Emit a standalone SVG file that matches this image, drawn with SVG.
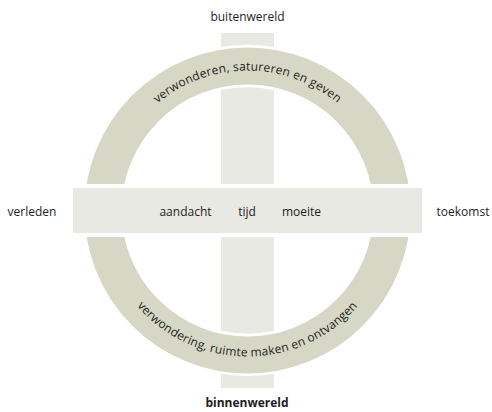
<svg xmlns="http://www.w3.org/2000/svg" width="492" height="412" viewBox="0 0 492 412">
  <style>
    .lbl { font-family: "Open Sans", "DejaVu Sans", sans-serif; font-size: 12px; fill: #1e1e1e; }
    .arc { letter-spacing: 0.2px; }
    .bold { font-weight: bold; }
    .bar { fill: #e8e9e3; }
    .gap { fill: #ffffff; }
  </style>
  <defs>
    <path id="arcTop" d="M 107.5 210.5 A 140 140 0 0 1 387.5 210.5"/>
    <path id="arcBottom" d="M 101.5 210.5 A 146 146 0 0 0 393.5 210.5"/>
  </defs>
  <rect width="492" height="412" fill="#ffffff"/>
  <g id="vertical-axis">
    <rect class="bar" x="221" y="33" width="53" height="355"/>
  </g>
  <g id="ring">
    <circle cx="247.5" cy="210.5" r="144.5" fill="none" stroke="#ffffff" stroke-width="42.5"/>
    <circle cx="247.5" cy="210.5" r="144.5" fill="none" stroke="#d6d8c5" stroke-width="37"/>
    <text class="lbl arc"><textPath href="#arcTop" startOffset="50%" text-anchor="middle">verwonderen, satureren en geven</textPath></text>
    <text class="lbl arc"><textPath href="#arcBottom" startOffset="50%" text-anchor="middle">verwondering, ruimte maken en ontvangen</textPath></text>
  </g>
  <g id="horizontal-axis">
    <rect class="gap" x="73" y="184" width="349" height="53"/>
    <rect class="bar" x="73" y="188" width="349" height="45"/>
    <text class="lbl" x="185.5" y="216" text-anchor="middle">aandacht</text>
    <text class="lbl" x="247" y="216" text-anchor="middle">tijd</text>
    <text class="lbl" x="301.5" y="216" text-anchor="middle">moeite</text>
  </g>
  <g id="labels">
    <text id="buitenwereld" class="lbl" x="247.5" y="21" text-anchor="middle">buitenwereld</text>
    <text id="binnenwereld" class="lbl bold" x="247" y="407" text-anchor="middle">binnenwereld</text>
    <text id="verleden" class="lbl" x="32" y="216" text-anchor="middle">verleden</text>
    <text id="toekomst" class="lbl" x="463" y="216" text-anchor="middle">toekomst</text>
  </g>
  <g id="connectors"/>
</svg>
